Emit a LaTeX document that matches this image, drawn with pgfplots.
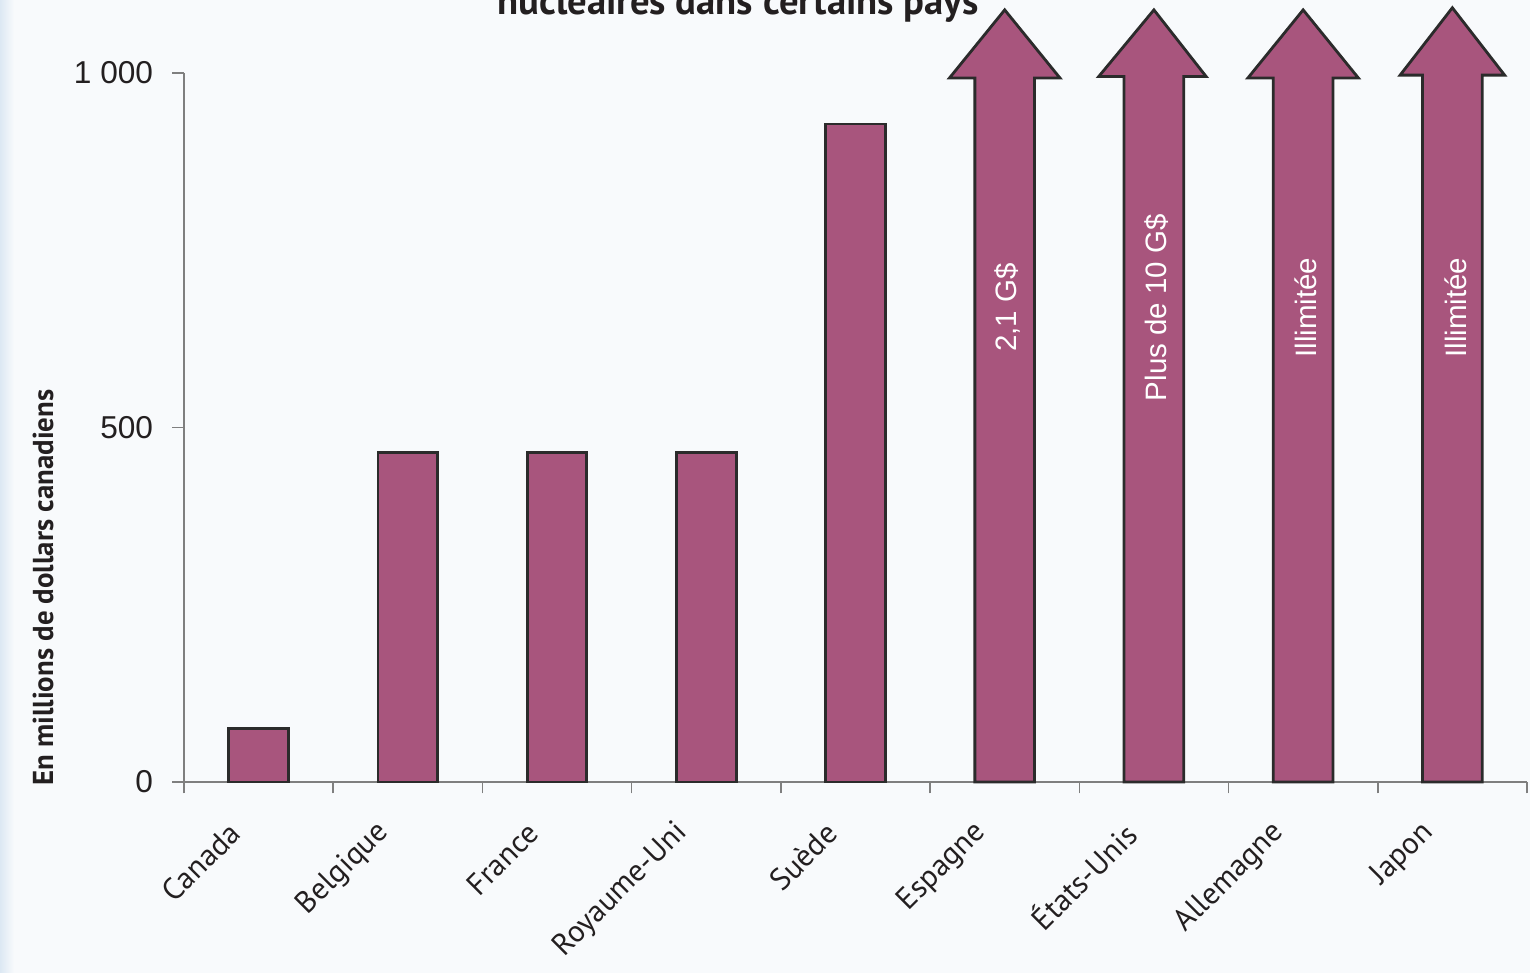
\documentclass[border=0pt]{standalone}
\usepackage{fontspec}
\setmainfont{PT Sans}
\newfontfamily\arial{Liberation Sans}
\usepackage{pgfplots}
\pgfplotsset{compat=1.18}
\definecolor{barc}{HTML}{A8557D}
\definecolor{edgec}{HTML}{2B2B2B}
\definecolor{axc}{HTML}{7F7F7F}
\definecolor{txt}{HTML}{231F20}
\definecolor{bg}{HTML}{F8FAFC}
\definecolor{bgl}{HTML}{DCE8F3}
\begin{document}
\begin{tikzpicture}[x=0.1mm,y=0.1mm]
\path[use as bounding box, clip] (0,0) rectangle (1530,973);
\fill[bg] (0,0) rectangle (1530,973);
\shade[left color=bgl, right color=bg] (0,0) rectangle (14,973);
\node[font=\bfseries\fontsize{11}{13}\selectfont, text=txt, anchor=base] at (738,958) {nucléaires dans certains pays};
\begin{axis}[
  at={(18.4mm,19.1mm)}, anchor=south west,
  scale only axis, width=134.3mm, height=70.9mm,
  xmin=-0.5, xmax=8.5, ymin=0, ymax=1000,
  clip=false,
  axis x line*=bottom, axis y line*=left,
  axis line style={axc, line width=0.45pt},
  tick style={axc, line width=0.45pt},
  tick align=outside,
  major tick length=1.15mm,
  ytick={0,500,1000}, yticklabels={0,500,{1 000}},
  yticklabel style={font=\arial\fontsize{9}{10}\selectfont, text=txt, xshift=-0.7mm},
  xtick={-0.5,0.5,...,8.5},
  x tick label as interval,
  xticklabels={Canada,Belgique,France,Royaume-Uni,Suède,Espagne,États-Unis,Allemagne,Japon},
  xticklabel style={font=\fontsize{8.7}{10}\selectfont, text=txt, xshift=-1.5mm, yshift=-2.6mm, rotate=45, anchor=east},
  ylabel={En millions de dollars canadiens},
  ylabel style={font=\bfseries\fontsize{8.2}{9}\selectfont, text=txt, at={(axis description cs:-0.105,0.274)}, anchor=center},
]
\addplot[ybar, bar width=0.4, fill=barc, draw=edgec, line width=0.8pt] coordinates {(0,75) (1,465) (2,465) (3,465) (4,928)};
\addplot[fill=barc, draw=edgec, line width=0.8pt, mark=none] coordinates {(4.8,0) (4.8,993) (4.63,993) (5,1089) (5.37,993) (5.2,993) (5.2,0)} \closedcycle;
\addplot[fill=barc, draw=edgec, line width=0.8pt, mark=none] coordinates {(5.8,0) (5.8,995) (5.63,995) (6,1089) (6.35,995) (6.2,995) (6.2,0)} \closedcycle;
\addplot[fill=barc, draw=edgec, line width=0.8pt, mark=none] coordinates {(6.8,0) (6.8,993) (6.63,993) (7,1089) (7.37,993) (7.2,993) (7.2,0)} \closedcycle;
\addplot[fill=barc, draw=edgec, line width=0.8pt, mark=none] coordinates {(7.8,0) (7.8,997) (7.65,997) (8,1092) (8.35,997) (8.2,997) (8.2,0)} \closedcycle;
\node[rotate=90, text=white, font=\arial\fontsize{8.4}{9}\selectfont] at (axis cs:5.02,669) {2,1 G\$};
\node[rotate=90, text=white, font=\arial\fontsize{8.4}{9}\selectfont] at (axis cs:6.02,669) {Plus de 10 G\$};
\node[rotate=90, text=white, font=\arial\fontsize{8.4}{9}\selectfont] at (axis cs:7.02,669) {Illimitée};
\node[rotate=90, text=white, font=\arial\fontsize{8.4}{9}\selectfont] at (axis cs:8.02,669) {Illimitée};
\end{axis}
\end{tikzpicture}
\end{document}
